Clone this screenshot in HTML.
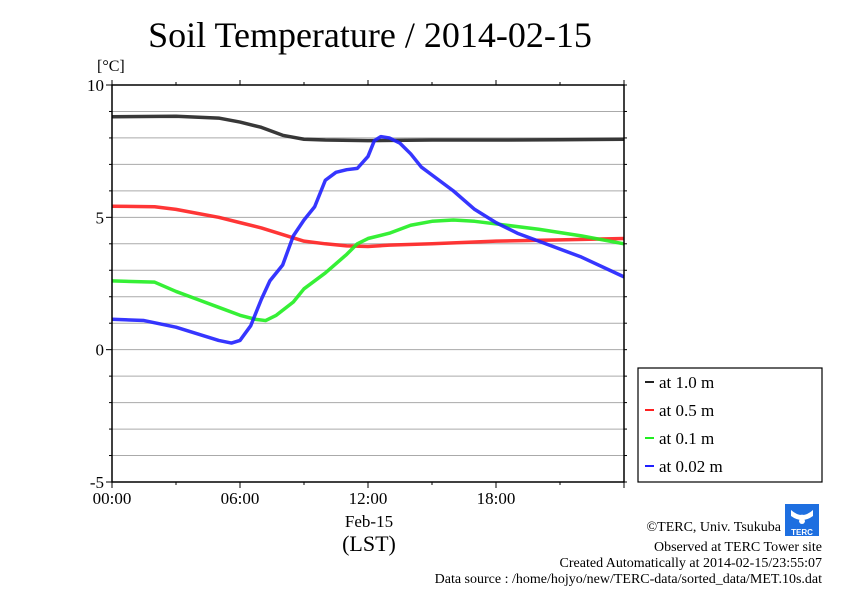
<!DOCTYPE html>
<html><head><meta charset="utf-8"><style>
body{margin:0;background:#fff}
svg{display:block;font-family:"Liberation Serif",serif}
</style></head><body>
<svg id="c" width="842" height="595">
<text x="370" y="47" font-size="36" text-anchor="middle">Soil Temperature / 2014-02-15</text>
<text x="97" y="71" font-size="16">[°C]</text>
<g id="grid"></g><g id="series"></g><g id="axes"></g>
<text x="369" y="527" font-size="17" text-anchor="middle">Feb-15</text>
<text x="369" y="551" font-size="22" text-anchor="middle">(LST)</text>
<g>
<rect x="638" y="368" width="184" height="114" fill="#fff" stroke="#000" stroke-width="1.2"/>
<g id="leg"></g>
</g>
<g>
<rect x="785" y="504" width="34" height="32" fill="#1e6fe0"/>
<path d="M791 510 q11 10 22 0 v6 q-11 8 -22 0z" fill="#fff"/>
<path d="M802 514 l3 7 a3 3 0 1 1 -6 0z" fill="#fff"/>
<text x="802" y="535" font-size="8" fill="#fff" text-anchor="middle" font-family="Liberation Sans,sans-serif" font-weight="bold">TERC</text>
</g>
<g font-size="14" text-anchor="end">
<text x="781" y="531">©TERC, Univ. Tsukuba</text>
<text x="822" y="551">Observed at TERC Tower site</text>
<text x="822" y="567">Created Automatically at 2014-02-15/23:55:07</text>
<text x="822" y="583">Data source : /home/hojyo/new/TERC-data/sorted_data/MET.10s.dat</text>
</g>
</svg>
<script>
const yTicks=[10,5,0,-5];
const xTickLabels=["00:00","06:00","12:00","18:00"];
const legendLabels=["at 1.0 m","at 0.5 m","at 0.1 m","at 0.02 m"];
const colors=["#222","#ff2020","#20ee20","#2020ff"];
const hours1=[0,3,5,6,7,8,9,10,12,15,18,21,24];
const d10=[8.8,8.82,8.75,8.6,8.4,8.1,7.95,7.92,7.9,7.92,7.92,7.93,7.95];
const hours2=[0,2,3,4,5,6,7,8,9,10,11,12,13,15,18,21,24];
const d05=[5.42,5.4,5.3,5.15,5.0,4.8,4.6,4.35,4.1,4.0,3.92,3.9,3.95,4.0,4.1,4.15,4.2];
const hours3=[0,2,3,4,5,6,6.7,7.2,7.7,8.5,9,10,11,11.5,12,13,14,15,16,17,18,20,22,24];
const d01=[2.6,2.55,2.2,1.9,1.6,1.3,1.15,1.1,1.3,1.8,2.3,2.9,3.6,4.0,4.2,4.4,4.7,4.85,4.9,4.85,4.75,4.55,4.3,4.0];
const hours4=[0,1.5,3,4,5,5.6,6,6.5,7,7.4,8,8.5,9,9.5,10,10.5,11,11.5,12,12.3,12.6,13,13.5,14,14.5,15,16,17,18,19,20,22,24];
const d002=[1.15,1.1,0.85,0.6,0.35,0.25,0.35,0.9,1.9,2.6,3.2,4.3,4.9,5.4,6.4,6.7,6.8,6.85,7.3,7.9,8.05,8.0,7.8,7.4,6.9,6.6,6.0,5.3,4.8,4.4,4.1,3.5,2.75];
const X0=112,X1=624,Y0=85,Y1=482;
const x=h=>X0+(X1-X0)*h/24, y=v=>Y1-(Y1-Y0)*(v+5)/15;
const NS="http://www.w3.org/2000/svg";
function mk(t,p,a){const e=document.createElementNS(NS,t);for(const k in a)e.setAttribute(k,a[k]);p.appendChild(e);return e;}
const grid=document.getElementById('grid'),axes=document.getElementById('axes'),ser=document.getElementById('series'),leg=document.getElementById('leg');
for(let v=-4;v<=9;v++){const l=mk('line',grid,{x1:X0,x2:X1,y1:y(v),y2:y(v),stroke:'#aaa','stroke-width':1});

}
const f=mk('rect',axes,{x:X0,y:Y0,width:X1-X0,height:Y1-Y0,fill:'none',stroke:'#000','stroke-width':1.5});


for(let v=-5;v<=10;v++){mk('line',axes,{x1:X0-(v%5==0?6:3),x2:X0,y1:y(v),y2:y(v),stroke:'#000'});mk('line',axes,{x1:X1,x2:X1+3,y1:y(v),y2:y(v),stroke:'#000'});}
yTicks.forEach(v=>{const t=mk('text',axes,{x:X0-8,y:y(v)+6,'font-size':17,'text-anchor':'end'});t.textContent=v;

});
for(let h=0;h<=24;h+=3){mk('line',axes,{x1:x(h),x2:x(h),y1:Y1,y2:Y1+(h%6==0?6:3),stroke:'#000'});mk('line',axes,{x1:x(h),x2:x(h),y1:Y0,y2:Y0-(h%6==0?5:3),stroke:'#000'});}
xTickLabels.forEach((s,i)=>{const t=mk('text',axes,{x:x(i*6),y:Y1+22,'font-size':17,'text-anchor':'middle'});t.textContent=s;

});
const all=[[hours1,d10],[hours2,d05],[hours3,d01],[hours4,d002]];
all.forEach(([hs,vs],i)=>{const p=mk('polyline',ser,{points:hs.map((h,j)=>x(h)+','+y(vs[j])).join(' '),fill:'none',stroke:colors[i],'stroke-width':3.5,'stroke-linejoin':'round','stroke-opacity':0.9});


const ly=382+28*i;
mk('line',leg,{x1:645,x2:654,y1:ly,y2:ly,stroke:colors[i],'stroke-width':2});
const t=mk('text',leg,{x:659,y:ly+6,'font-size':17});t.textContent=legendLabels[i];

});
</script>
</body></html>
